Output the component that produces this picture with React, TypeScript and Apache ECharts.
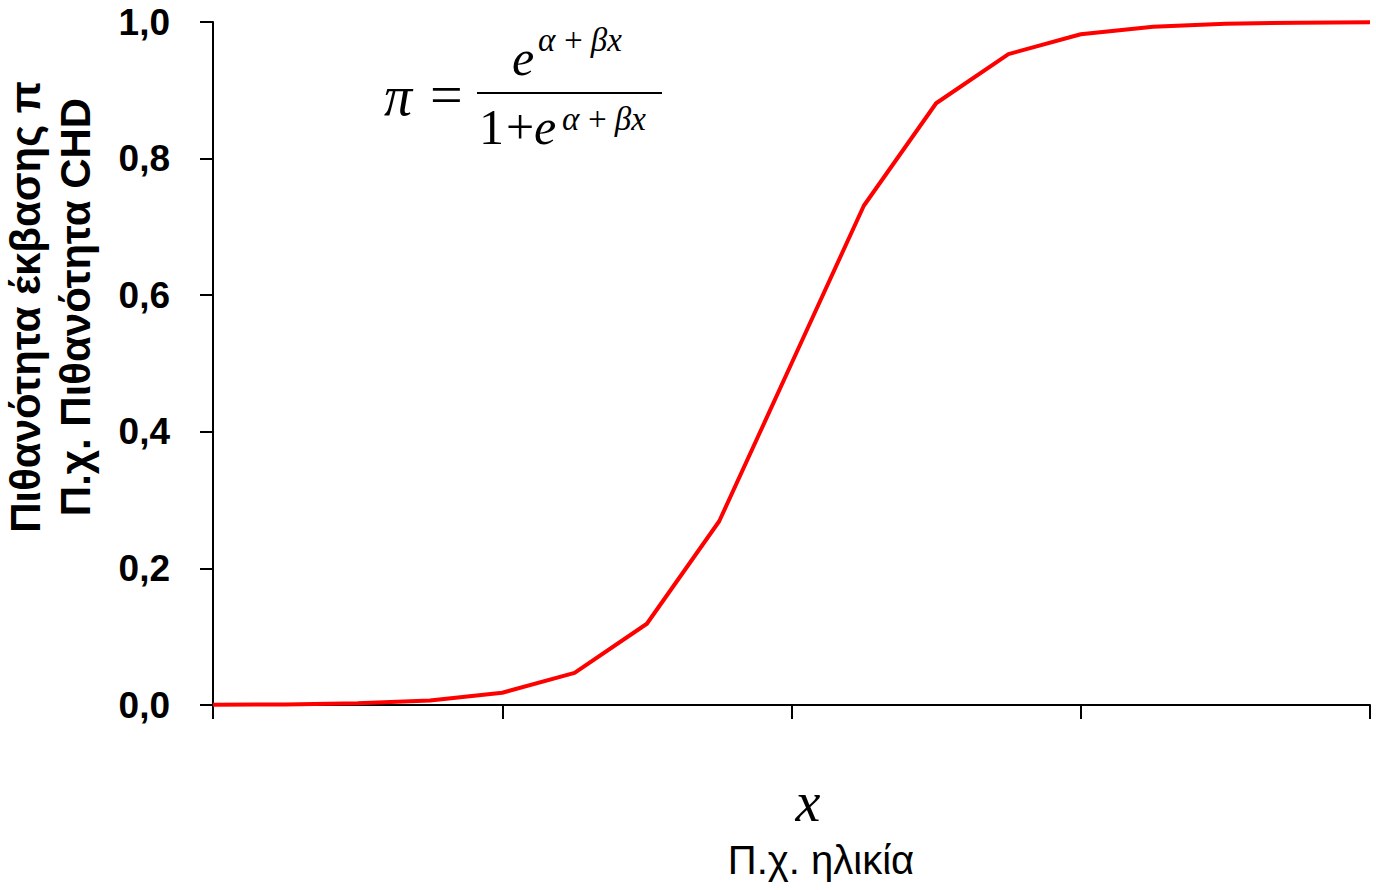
import React, { useEffect, useRef } from "react";
import * as echarts from "echarts";

const xValues = [-8, -7, -6, -5, -4, -3, -2, -1, 0, 1, 2, 3, 4, 5, 6, 7, 8];
const probability = [
  0.0003, 0.0009, 0.0025, 0.0067, 0.018, 0.047, 0.119, 0.269, 0.5, 0.731,
  0.881, 0.953, 0.982, 0.993, 0.9975, 0.999, 0.9997,
];
const yTitleLine1 = "Πιθανότητα έκβασης π";
const yTitleLine2 = "Π.χ. Πιθανότητα CHD";
const xTitleSymbol = "x";
const xTitleText = "Π.χ. ηλικία";

export default function App() {
  const ref = useRef<HTMLDivElement>(null);
  useEffect(() => {
    if (!ref.current) return;
    const chart = echarts.init(ref.current, undefined, { renderer: "svg" });
    const serif = "'Liberation Serif', 'Times New Roman', serif";
    const sans = "'Liberation Sans', Arial, sans-serif";
    const txt = (x: number, y: number, text: string, font: string, extra: any = {}) => ({
      type: "text",
      x,
      y,
      ...extra,
      style: {
        text,
        font,
        fill: "#000",
        textAlign: extra.align || "left",
        textVerticalAlign: "middle",
      },
    });
    const sup = "α\u2009+\u2009βx";
    chart.setOption({
      animation: false,
      backgroundColor: "#ffffff",
      grid: { left: 213, right: 6, top: 22, bottom: 185, containLabel: false },
      xAxis: {
        type: "value",
        min: -8,
        max: 8,
        interval: 4,
        axisLine: { show: true, onZero: false, lineStyle: { color: "#000", width: 2 } },
        axisTick: { show: true, length: 14, lineStyle: { color: "#000", width: 2 } },
        axisLabel: { show: false },
        splitLine: { show: false },
      },
      yAxis: {
        type: "value",
        min: 0,
        max: 1,
        interval: 0.2,
        axisLine: { show: true, onZero: false, lineStyle: { color: "#000", width: 2 } },
        axisTick: { show: true, length: 13, lineStyle: { color: "#000", width: 2 } },
        axisLabel: {
          margin: 43,
          color: "#000",
          fontSize: 37,
          fontWeight: "bold",
          fontFamily: sans,
          formatter: (v: number) => v.toFixed(1).replace(".", ","),
        },
        splitLine: { show: false },
      },
      series: [
        {
          type: "line",
          data: xValues.map((x, i) => [x, probability[i]]),
          showSymbol: false,
          lineStyle: { color: "#ff0000", width: 4 },
          itemStyle: { color: "#ff0000" },
        },
      ],
      graphic: [
        txt(25, 307, yTitleLine1, `bold 42px ${sans}`, { rotation: Math.PI / 2, align: "center" }),
        txt(75, 307, yTitleLine2, `bold 42px ${sans}`, { rotation: Math.PI / 2, align: "center" }),
        txt(808, 802, xTitleSymbol, `italic 56px ${serif}`, { align: "center" }),
        txt(821, 860, xTitleText, `40px ${sans}`, { align: "center" }),
        // Formula
        txt(384, 96, "π", `italic 56px ${serif}`),
        txt(430, 94, "=", `58px ${serif}`),
        {
          type: "line",
          shape: { x1: 477, y1: 93, x2: 662, y2: 93 },
          style: { stroke: "#000", lineWidth: 2 },
        },
        txt(512, 58, "e", `italic 50px ${serif}`),
        txt(538, 40, sup, `italic 33px ${serif}`),
        txt(479, 127, "1", `50px ${serif}`),
        txt(506, 127, "+", `50px ${serif}`),
        txt(534, 127, "e", `italic 50px ${serif}`),
        txt(562, 119, sup, `italic 33px ${serif}`),
      ],
    });
    return () => chart.dispose();
  }, []);
  return (
    <div
      ref={ref}
      style={{ position: "absolute", left: 0, top: 0, width: 1376, height: 890 }}
    />
  );
}
